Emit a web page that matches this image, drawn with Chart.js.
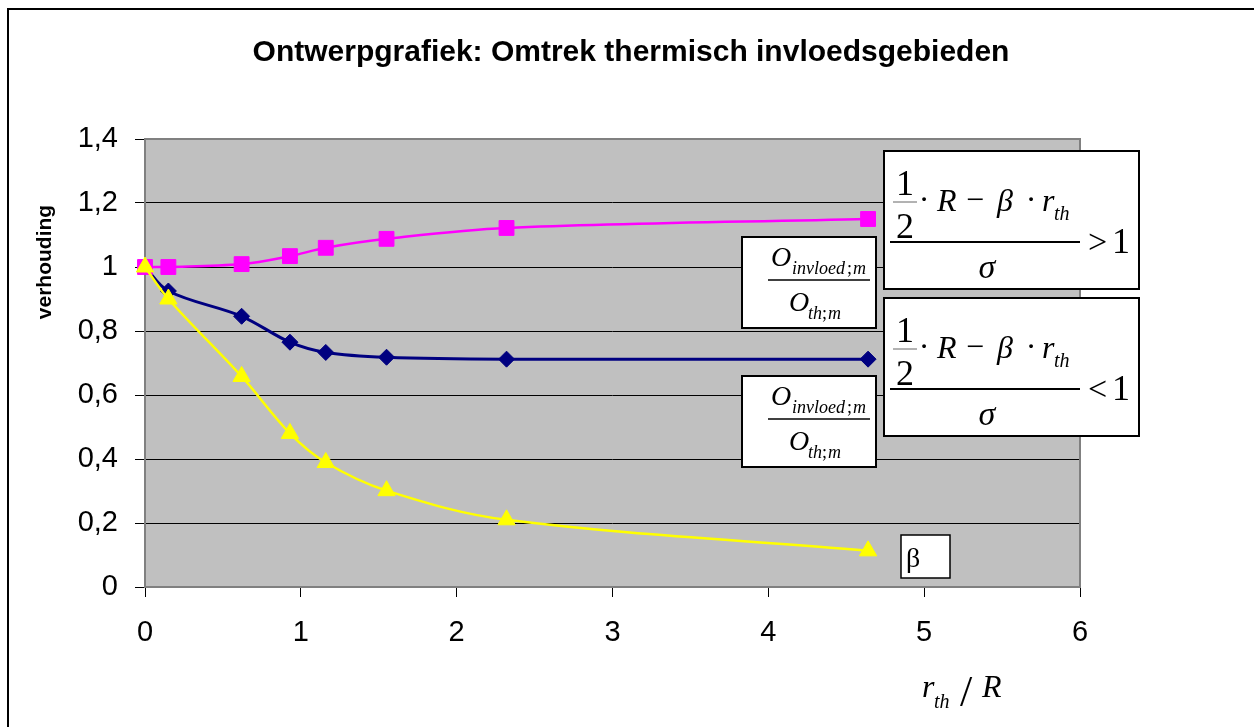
<!DOCTYPE html>
<html>
<head>
<meta charset="utf-8">
<script src="https://cdn.jsdelivr.net/npm/chart.js@4"></script>
<style>
  body { margin: 0; background: #fff; }
</style>
</head>
<body>
<canvas id="grafiek" width="1254" height="727"></canvas>
<script>
// gegevens
const rthOverR = [0, 0.15, 0.62, 0.93, 1.16, 1.55, 2.32, 4.64];
const verhoudingGroot = [1.0, 1.0, 1.009, 1.034, 1.06, 1.088, 1.122, 1.15];
const verhoudingKlein = [1.0, 0.925, 0.846, 0.765, 0.733, 0.718, 0.712, 0.712];
const betaWaarden = [1.0, 0.9, 0.658, 0.48, 0.389, 0.301, 0.21, 0.113];
const yLabels = ['0', '0,2', '0,4', '0,6', '0,8', '1', '1,2', '1,4'];
const xLabels = ['0', '1', '2', '3', '4', '5', '6'];

const SANS = '"Liberation Sans", Arial, sans-serif';
const SERIF = '"Liberation Serif", "Times New Roman", serif';

function punten(ys) {
  return rthOverR.map((x, i) => ({ x: x, y: ys[i] }));
}

function tekst(ctx, s, x, y, font, align) {
  ctx.font = font;
  ctx.textAlign = align || 'left';
  ctx.textBaseline = 'alphabetic';
  ctx.fillText(s, x, y);
}

function kader(ctx, x, y, w, h, lw) {
  ctx.fillStyle = '#fff';
  ctx.fillRect(x, y, w, h);
  ctx.lineWidth = lw;
  ctx.strokeStyle = '#000';
  ctx.strokeRect(x, y, w, h);
  ctx.fillStyle = '#000';
}

function lijn(ctx, x1, y1, x2, y2, lw, kleur) {
  ctx.beginPath();
  ctx.lineWidth = lw;
  ctx.strokeStyle = kleur || '#000';
  ctx.moveTo(x1, y1);
  ctx.lineTo(x2, y2);
  ctx.stroke();
}

// (1/2·R − β·r_th) / σ  > 1  of  < 1
function voorwaarde(ctx, x0, y0, teken) {
  kader(ctx, x0, y0, 255, 138, 2);
  tekst(ctx, '1', x0 + 21, y0 + 44, '36px ' + SERIF, 'center');
  lijn(ctx, x0 + 9, y0 + 51, x0 + 33, y0 + 51, 1, '#666');
  tekst(ctx, '2', x0 + 21, y0 + 87, '36px ' + SERIF, 'center');
  tekst(ctx, '·', x0 + 40, y0 + 59, '32px ' + SERIF, 'center');
  tekst(ctx, 'R', x0 + 53, y0 + 60, 'italic 32px ' + SERIF);
  tekst(ctx, '−', x0 + 82, y0 + 59, '32px ' + SERIF);
  tekst(ctx, 'β', x0 + 113, y0 + 60, 'italic 32px ' + SERIF);
  tekst(ctx, '·', x0 + 147, y0 + 59, '32px ' + SERIF, 'center');
  tekst(ctx, 'r', x0 + 158, y0 + 60, 'italic 32px ' + SERIF);
  tekst(ctx, 'th', x0 + 170, y0 + 69, 'italic 20px ' + SERIF);
  lijn(ctx, x0 + 6, y0 + 91, x0 + 196, y0 + 91, 2);
  tekst(ctx, 'σ', x0 + 103, y0 + 127, 'italic 34px ' + SERIF, 'center');
  tekst(ctx, teken, x0 + 204, y0 + 102, '34px ' + SERIF);
  tekst(ctx, '1', x0 + 228, y0 + 102, '36px ' + SERIF);
}

// O_invloed;m / O_th;m
function omtrekVerhouding(ctx, x0, y0) {
  kader(ctx, x0, y0, 134, 91, 2);
  tekst(ctx, 'O', x0 + 29, y0 + 29, 'italic 28px ' + SERIF);
  tekst(ctx, 'invloed', x0 + 50, y0 + 37, 'italic 18px ' + SERIF);
  tekst(ctx, ';', x0 + 105, y0 + 37, '18px ' + SERIF);
  tekst(ctx, 'm', x0 + 111, y0 + 37, 'italic 18px ' + SERIF);
  lijn(ctx, x0 + 26, y0 + 43, x0 + 128, y0 + 43, 1.5);
  tekst(ctx, 'O', x0 + 47, y0 + 74, 'italic 28px ' + SERIF);
  tekst(ctx, 'th', x0 + 66, y0 + 82, 'italic 18px ' + SERIF);
  tekst(ctx, ';', x0 + 80, y0 + 82, '18px ' + SERIF);
  tekst(ctx, 'm', x0 + 86, y0 + 82, 'italic 18px ' + SERIF);
}

const achtergrond = {
  id: 'achtergrond',
  beforeDraw(chart) {
    const ctx = chart.ctx;
    const a = chart.chartArea;
    ctx.save();
    ctx.fillStyle = '#fff';
    ctx.fillRect(0, 0, chart.width, chart.height);
    ctx.lineWidth = 2;
    ctx.strokeStyle = '#000';
    ctx.beginPath();
    ctx.moveTo(8, chart.height + 5);
    ctx.lineTo(8, 9);
    ctx.lineTo(chart.width + 5, 9);
    ctx.stroke();
    ctx.fillStyle = '#C0C0C0';
    ctx.fillRect(a.left, a.top, a.right - a.left, a.bottom - a.top);
    ctx.restore();
  },
  beforeDatasetsDraw(chart) {
    const ctx = chart.ctx;
    const a = chart.chartArea;
    ctx.save();
    ctx.lineWidth = 2;
    ctx.strokeStyle = '#808080';
    ctx.strokeRect(a.left, a.top, a.right - a.left, a.bottom - a.top);
    ctx.restore();
  },
  afterDraw(chart) {
    const ctx = chart.ctx;
    ctx.save();
    ctx.fillStyle = '#000';
    tekst(ctx, 'Ontwerpgrafiek: Omtrek thermisch invloedsgebieden', 631, 61, 'bold 30px ' + SANS, 'center');

    ctx.save();
    ctx.translate(51, 262);
    ctx.rotate(-Math.PI / 2);
    tekst(ctx, 'verhouding', 0, 0, 'bold 21px ' + SANS, 'center');
    ctx.restore();

    // as-titel r_th / R
    tekst(ctx, 'r', 922, 697, 'italic 32px ' + SERIF);
    tekst(ctx, 'th', 934, 708, 'italic 20px ' + SERIF);
    tekst(ctx, '/', 960, 706, '44px ' + SERIF);
    tekst(ctx, 'R', 982, 697, 'italic 32px ' + SERIF);

    voorwaarde(ctx, 884, 151, '>');
    voorwaarde(ctx, 884, 298, '<');
    omtrekVerhouding(ctx, 742, 237);
    omtrekVerhouding(ctx, 742, 376);

    kader(ctx, 901, 535, 49, 43, 1.5);
    tekst(ctx, 'β', 906, 567, '28px ' + SERIF);
    ctx.restore();
  }
};

new Chart(document.getElementById('grafiek'), {
  type: 'scatter',
  data: {
    datasets: [
      {
        label: 'β',
        data: punten(betaWaarden),
        showLine: true,
        borderColor: '#FFFF00',
        backgroundColor: '#FFFF00',
        borderWidth: 2.5,
        pointStyle: 'triangle',
        pointRadius: 10,
        pointBorderWidth: 1,
        tension: 0.35,
        clip: false
      },
      {
        label: 'groter dan 1',
        data: punten(verhoudingGroot),
        showLine: true,
        borderColor: '#FF00FF',
        backgroundColor: '#FF00FF',
        borderWidth: 2.5,
        pointStyle: 'rect',
        pointRadius: 10.5,
        pointBorderWidth: 1,
        tension: 0.35,
        clip: false
      },
      {
        label: 'kleiner dan 1',
        data: punten(verhoudingKlein),
        showLine: true,
        borderColor: '#000080',
        backgroundColor: '#000080',
        borderWidth: 3,
        pointStyle: 'rectRot',
        pointRadius: 8,
        pointBorderWidth: 1,
        tension: 0.35,
        clip: false
      }
    ]
  },
  options: {
    responsive: false,
    animation: false,
    layout: { padding: { left: 0, top: 139, right: 174, bottom: 0 } },
    plugins: {
      legend: { display: false },
      title: { display: false },
      tooltip: { enabled: false }
    },
    scales: {
      x: {
        type: 'linear',
        min: 0,
        max: 6,
        afterFit(scale) { scale.height = 140; },
        ticks: {
          stepSize: 1,
          color: '#000',
          font: { family: SANS, size: 29 },
          padding: 19,
          callback: (v, i) => xLabels[i]
        },
        grid: { drawOnChartArea: false, tickLength: 10, tickColor: '#000' },
        border: { display: false }
      },
      y: {
        min: 0,
        max: 1.4,
        afterFit(scale) { scale.width = 145; },
        ticks: {
          stepSize: 0.2,
          color: '#000',
          font: { family: SANS, size: 29 },
          padding: 17,
          callback: (v, i) => yLabels[i]
        },
        grid: {
          color: ctx => (ctx.index === 0 || ctx.index === yLabels.length - 1) ? 'rgba(0,0,0,0)' : '#000',
          lineWidth: 1,
          tickLength: 10,
          tickColor: '#000'
        },
        border: { display: false }
      }
    }
  },
  plugins: [achtergrond]
});
</script>
</body>
</html>
